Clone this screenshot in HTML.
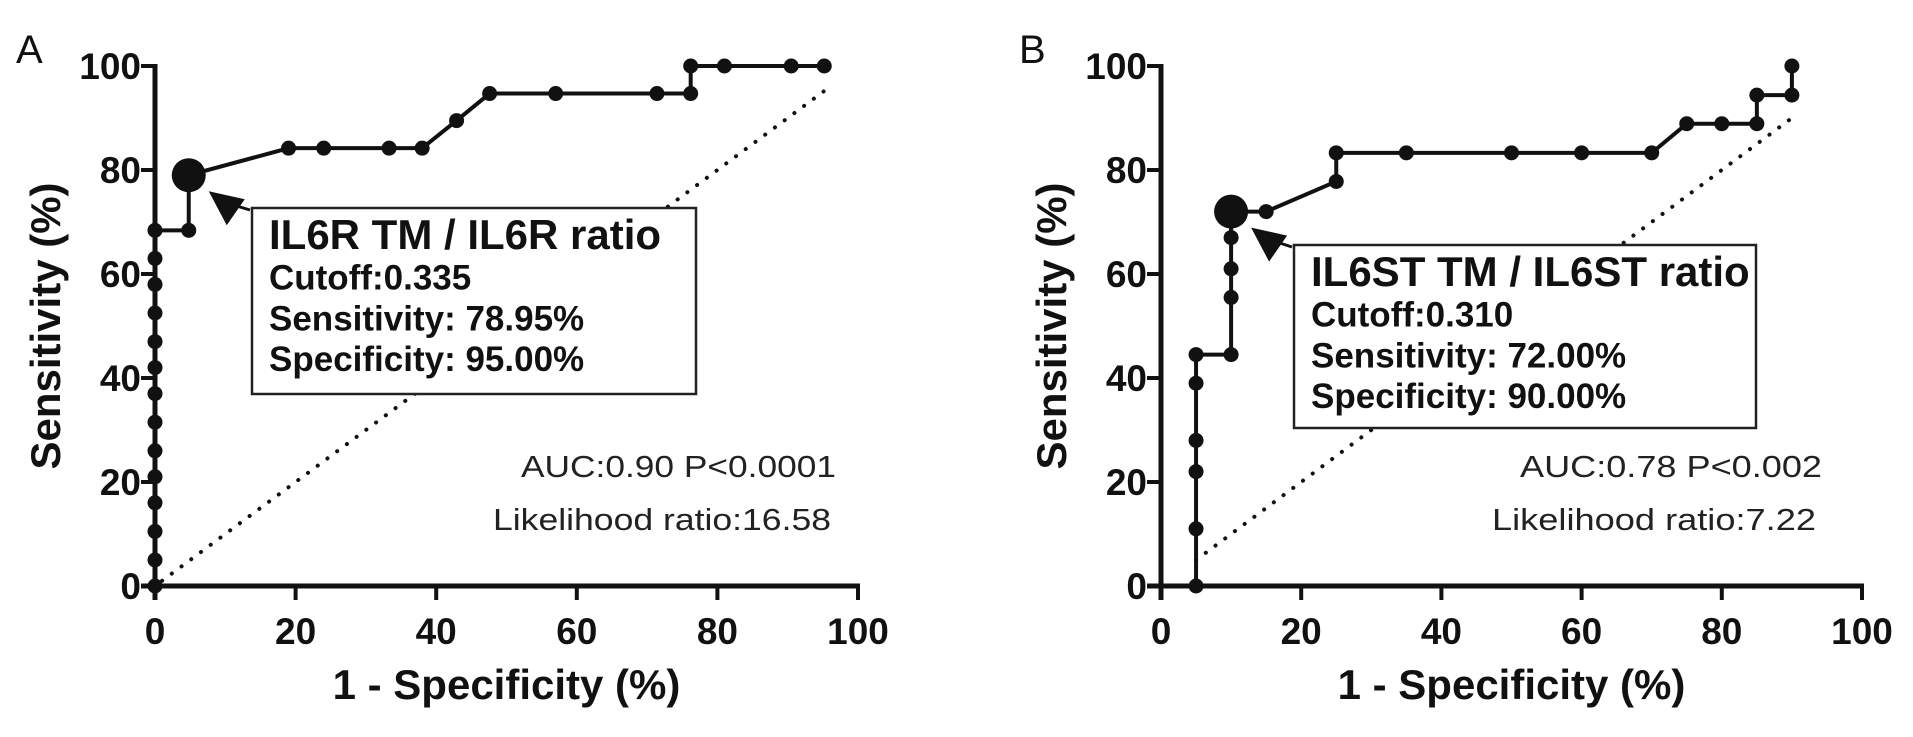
<!DOCTYPE html>
<html><head><meta charset="utf-8"><style>
body{margin:0;background:#fff;}
svg text{font-family:"Liberation Sans",Arial,sans-serif;}
</style></head><body>
<svg id="c" width="1913" height="732" xmlns="http://www.w3.org/2000/svg"></svg>
<script>
const ticks=[0,20,40,60,80,100];
const aX=[0,0,0,0,0,0,0,0,0,0,0,0,0,0,4.8,4.8,19,24,33.3,38,42.9,47.6,57,71.4,76.2,76.2,81,90.5,95.2];
const aY=[0,5,10.5,16,21,26,31.5,37,42,47,52.5,58,63,68.4,68.4,79,84.2,84.2,84.2,84.2,89.5,94.7,94.7,94.7,94.7,100,100,100,100];
const aBig=[4.8,79];
const aDiag=[1,95.5];
const bX=[5,5,5,5,5,5,10,10,10,10,10,15,25,25,35,50,60,70,75,80,85,85,90,90];
const bY=[0,11,22,28,39,44.5,44.5,55.5,61,67,72,72,77.8,83.3,83.3,83.3,83.3,83.3,88.9,88.9,88.9,94.4,94.4,100];
const bBig=[10,72];
const bDiag=[5,90];
const svg=document.getElementById('c');
const NS='http://www.w3.org/2000/svg';
function mk(t,a,txt){const e=document.createElementNS(NS,t);for(const k in a)e.setAttribute(k,a[k]);if(txt!==undefined)e.textContent=txt;svg.appendChild(e);return e;}
function panel(p){
 const sx=v=>p.x0+(p.x1-p.x0)*v/100, sy=v=>p.y0-(p.y0-p.y1)*v/100;
 let e=mk('line',{x1:sx(p.diag[0]),y1:sy(p.diag[0]),x2:sx(p.diag[1]),y2:sy(p.diag[1]),stroke:'#111','stroke-width':4,'stroke-dasharray':'0.1 12','stroke-linecap':'round'});
 
 
 e=mk('line',{x1:p.x0-14,y1:p.y0,x2:p.x1+2,y2:p.y0,stroke:'#111','stroke-width':5});
 
 
 e=mk('line',{x1:p.x0,y1:p.y0+14,x2:p.x0,y2:p.y1-2,stroke:'#111','stroke-width':5});
 
 
 ticks.forEach(t=>{
  mk('line',{x1:sx(t),y1:p.y0,x2:sx(t),y2:p.y0+14,stroke:'#111','stroke-width':4});
  mk('line',{x1:p.x0-14,y1:sy(t),x2:p.x0,y2:sy(t),stroke:'#111','stroke-width':4});
  e=mk('text',{x:sx(t),y:p.y0+58,'text-anchor':'middle','font-size':37,'font-weight':'bold',fill:'#111'},t);
  
  
  e=mk('text',{x:p.x0-14,y:sy(t)+13,'text-anchor':'end','font-size':37,'font-weight':'bold',fill:'#111'},t);
  
  
 });
 const pts=p.xs.map((v,i)=>sx(v)+','+sy(p.ys[i])).join(' ');
 e=mk('polyline',{points:pts,fill:'none',stroke:'#111','stroke-width':4});
 
 
 p.xs.forEach((v,i)=>{
  e=mk('circle',{cx:sx(v),cy:sy(p.ys[i]),r:7.5,fill:'#111'});
  
  
 });
 const bx=sx(p.big[0]),by=sy(p.big[1]);
 e=mk('circle',{cx:bx,cy:by,r:17,fill:'#111'});
 
 
 const tx=bx+20,ty=by+16;
 mk('line',{x1:p.box[0]-2,y1:p.box[1]+2,x2:tx+12,y2:ty+10,stroke:'#111','stroke-width':3});
 e=mk('polygon',{points:`${tx},${ty} ${tx+36},${ty+8} ${tx+18},${ty+34}`,fill:'#111'});
 
 
 e=mk('rect',{x:p.box[0],y:p.box[1],width:p.box[2],height:p.box[3],fill:'#fff',stroke:'#222','stroke-width':2.5});
 
 
 const lx=p.box[0]+17;
 e=mk('text',{x:lx,y:p.box[1]+41,'font-size':42,'font-weight':'bold',fill:'#111'},p.lines[0]);
 
 
 [1,2,3].forEach(i=>{
  e=mk('text',{x:lx,y:p.box[1]+41+i*40.7,'font-size':35,'font-weight':'bold',fill:'#111'},p.lines[i]);
  
  
 });
 e=mk('text',{x:p.aucR,y:477,'text-anchor':'end','font-size':31,fill:'#222',textLength:p.aucW,lengthAdjust:'spacingAndGlyphs'},p.auc);
 
 
 e=mk('text',{x:p.lrR,y:530,'text-anchor':'end','font-size':31,fill:'#222',textLength:p.lrW,lengthAdjust:'spacingAndGlyphs'},p.lr);
 
 
 e=mk('text',{x:(p.x0+p.x1)/2,y:p.y0+113,'text-anchor':'middle','font-size':42,'font-weight':'bold',fill:'#111'},'1 - Specificity (%)');
 
 
 e=mk('text',{x:p.ytx,y:326,'text-anchor':'middle','font-size':42,'font-weight':'bold',fill:'#111',transform:`rotate(-90 ${p.ytx} 326)`},'Sensitivity (%)');
 
 
 e=mk('text',{x:p.letX,y:63,'font-size':40,fill:'#111'},p.letter);
 
 
}
panel({id:'panel-a',x0:155,x1:858,y0:586,y1:66,xs:aX,ys:aY,big:aBig,diag:aDiag,box:[252,208,444,186],
 lines:['IL6R TM / IL6R ratio','Cutoff:0.335','Sensitivity: 78.95%','Specificity: 95.00%'],
 auc:'AUC:0.90 P<0.0001',lr:'Likelihood ratio:16.58',aucR:836,aucW:315,lrR:831,lrW:338,ytx:60,letX:16,letter:'A'});
panel({id:'panel-b',x0:1161,x1:1862,y0:586,y1:66,xs:bX,ys:bY,big:bBig,diag:bDiag,box:[1294,245,462,183],
 lines:['IL6ST TM / IL6ST ratio','Cutoff:0.310','Sensitivity: 72.00%','Specificity: 90.00%'],
 auc:'AUC:0.78 P<0.002',lr:'Likelihood ratio:7.22',aucR:1822,aucW:302,lrR:1816,lrW:324,ytx:1066,letX:1019,letter:'B'});
</script>
</body></html>
